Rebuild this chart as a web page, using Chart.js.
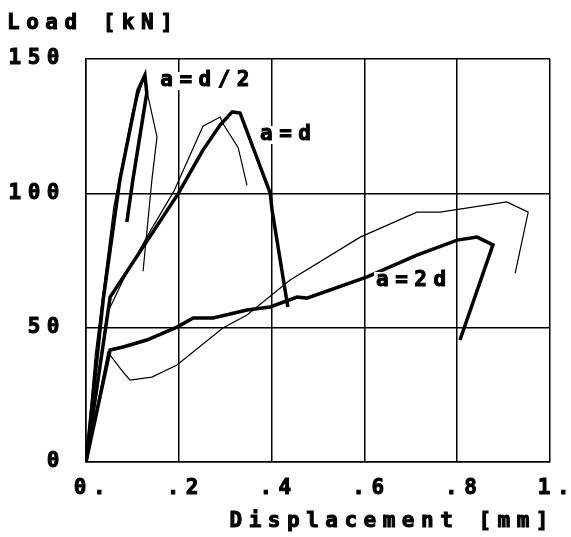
<!DOCTYPE html>
<html>
<head>
<meta charset="utf-8">
<script src="https://cdn.jsdelivr.net/npm/chart.js@4.4.1/dist/chart.umd.min.js"></script>
<style>
  html, body { margin: 0; padding: 0; background: #fff; }
  #wrap { width: 571px; height: 537px; position: relative; }
</style>
</head>
<body>
<div id="wrap"><canvas id="c"></canvas></div>
<script>
// ---- tick labels ----
const xTickValues = [0, 0.2, 0.4, 0.6, 0.8, 1.0];
const xTickLabels = ['0.', '.2', '.4', '.6', '.8', '1.'];
const yTickValues = [0, 50, 100, 150];
const yTickLabels = ['0', '50', '100', '150'];
const yAxisTitle = 'Load [kN]';
const xAxisTitle = 'Displacement [mm]';

// ---- a = d/2 ----
const dHalfThickX = [0, 0.037, 0.073, 0.112, 0.127, 0.131, 0.101, 0.088];
const dHalfThickY = [0, 60.3, 105, 138.4, 144, 137.3, 105, 89.3];
const dHalfThinX  = [0, 0.02, 0.06, 0.10, 0.125, 0.153, 0.142, 0.123];
const dHalfThinY  = [0, 40, 95, 130, 143, 121, 105, 71];

// ---- a = d ----
const dThickX = [0, 0.052, 0.198, 0.252, 0.289, 0.315, 0.332, 0.397, 0.401, 0.435];
const dThickY = [0, 61.4, 99.7, 116.1, 125.4, 130.3, 129.9, 100.1, 93.8, 57.7];
const dThinX  = [0, 0.045, 0.08, 0.131, 0.19, 0.252, 0.289, 0.295, 0.328, 0.347];
const dThinY  = [0, 55, 67.7, 83.7, 101, 125, 128.4, 126, 117, 103];

// ---- a = 2d ----
const d2ThickX = [0, 0.052, 0.080, 0.131, 0.196, 0.231, 0.274, 0.347, 0.397, 0.455, 0.476, 0.606, 0.713, 0.800, 0.843, 0.877, 0.806];
const d2ThickY = [0, 41.7, 42.8, 45.4, 50.2, 53.6, 53.6, 56.6, 57.7, 61.4, 61.0, 68.9, 77.0, 82.6, 83.7, 80.8, 45.4];
const d2ThinX  = [0, 0.047, 0.080, 0.095, 0.142, 0.196, 0.295, 0.347, 0.440, 0.591, 0.713, 0.763, 0.907, 0.953, 0.925];
const d2ThinY  = [0, 40.9, 33.5, 30.5, 31.6, 36.1, 49.9, 54.7, 67.7, 83.7, 93.0, 93.0, 96.8, 93.0, 70.3];

// ---- curve labels (data coordinates) ----
const curveLabels = ['a=d/2', 'a=d', 'a=2d'];
const curveLabelX = [0.16, 0.375, 0.625];
const curveLabelY = [141.8, 121.7, 67.4];

function pts(xs, ys) { return xs.map((x, i) => ({ x: x, y: ys[i] })); }
function series(xs, ys, w) {
  return { data: pts(xs, ys), borderColor: '#000', borderWidth: w, pointRadius: 0,
           tension: 0, fill: false, showLine: true };
}

const FONT = { family: '"DejaVu Sans Mono", monospace', size: 21, weight: 'bold' };
const FONT_CSS = 'bold 21px "DejaVu Sans Mono", monospace';
const SPACING = '6.5px';

function boldText(ctx, t, x, y) {
  ctx.fillText(t, x, y);
  ctx.strokeText(t, x, y);
}

const textPlugin = {
  id: 'textPlugin',
  beforeDraw(chart) { chart.ctx.letterSpacing = SPACING; },
  afterDatasetsDraw(chart) {
    const ctx = chart.ctx;
    const xs = chart.scales.x, ys = chart.scales.y;
    ctx.save();
    ctx.letterSpacing = SPACING;
    ctx.fillStyle = '#000';
    ctx.strokeStyle = '#000';
    ctx.lineWidth = 1;
    ctx.font = FONT_CSS;
    ctx.textBaseline = 'middle';
    ctx.textAlign = 'left';
    curveLabels.forEach((t, i) => {
      const px = xs.getPixelForValue(curveLabelX[i]);
      const py = ys.getPixelForValue(curveLabelY[i]);
      const w = ctx.measureText(t).width;
      ctx.fillStyle = '#fff';
      ctx.fillRect(px - 2, py - 9, w - 2, 18);
      ctx.fillStyle = '#000';
      boldText(ctx, t, px, py);
    });
    ctx.textBaseline = 'alphabetic';
    ctx.textAlign = 'left';
    boldText(ctx, yAxisTitle, 7, 29);
    ctx.textAlign = 'right';
    boldText(ctx, xAxisTitle, chart.chartArea.right + 5, 527);
    ctx.restore();
  }
};

Chart.defaults.font.family = FONT.family;
Chart.defaults.font.size = FONT.size;
Chart.defaults.font.weight = FONT.weight;
Chart.defaults.color = '#000';

new Chart(document.getElementById('c'), {
  type: 'line',
  data: {
    datasets: [
      series(dHalfThinX, dHalfThinY, 1.2),
      series(dThinX, dThinY, 1.2),
      series(d2ThinX, d2ThinY, 1.2),
      series(dHalfThickX, dHalfThickY, 3.5),
      series(dThickX, dThickY, 3.5),
      series(d2ThickX, d2ThickY, 3.5)
    ]
  },
  options: {
    responsive: true,
    maintainAspectRatio: false,
    animation: false,
    layout: { padding: { left: 0, top: 59, right: 21, bottom: 0 } },
    plugins: { legend: { display: false }, tooltip: { enabled: false }, title: { display: false } },
    scales: {
      x: {
        type: 'linear', min: 0, max: 1,
        afterFit(s) { s.height = 75; s.paddingLeft = 0; s.paddingRight = 0; },
        afterBuildTicks(s) { s.ticks = xTickValues.map(v => ({ value: v })); },
        ticks: {
          padding: 14, labelOffset: 7, maxRotation: 0, autoSkip: false,
          textStrokeColor: '#000', textStrokeWidth: 1,
          callback: (v) => { const i = xTickValues.findIndex(t => Math.abs(t - v) < 1e-9); return i >= 0 ? xTickLabels[i] : ''; }
        },
        grid: { color: '#000', lineWidth: 1.5, drawTicks: false },
        border: { color: '#000', width: 1.5 }
      },
      y: {
        type: 'linear', min: 0, max: 150,
        afterFit(s) { s.width = 86; s.paddingTop = 0; s.paddingBottom = 0; },
        afterBuildTicks(s) { s.ticks = yTickValues.map(v => ({ value: v })); },
        ticks: {
          padding: 20, autoSkip: false,
          textStrokeColor: '#000', textStrokeWidth: 1,
          callback: (v) => { const i = yTickValues.indexOf(v); return i >= 0 ? yTickLabels[i] : ''; }
        },
        grid: { color: '#000', lineWidth: 1.5, drawTicks: false },
        border: { color: '#000', width: 1.5 }
      }
    }
  },
  plugins: [textPlugin]
});
</script>
</body>
</html>
